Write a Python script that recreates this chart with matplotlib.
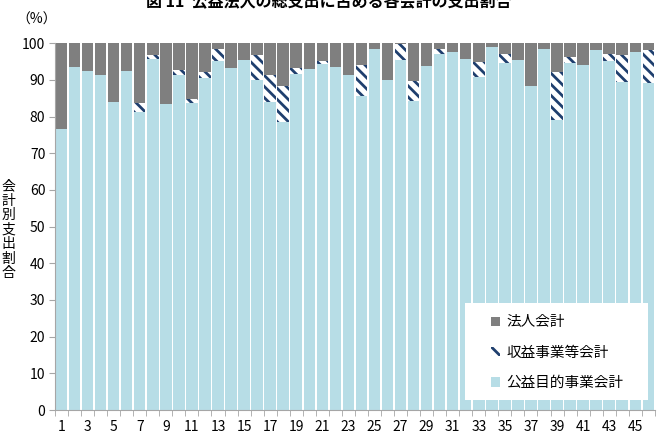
import numpy as np
import matplotlib
matplotlib.use("Agg")
import matplotlib.pyplot as plt
from matplotlib.patches import Patch, Rectangle

plt.rcParams['font.family'] = ['Noto Sans CJK JP', 'DejaVu Sans']
plt.rcParams['hatch.linewidth'] = 2.0

# Data
groups = np.arange(1, 47)
koueki = np.array([76.5, 93.4, 92.5, 91.3, 84.0, 92.4, 81.3, 95.8, 83.4, 91.3,
                   83.8, 90.4, 95.2, 93.3, 95.5, 89.9, 84.0, 78.6, 91.5, 92.9,
                   94.2, 93.5, 91.3, 85.6, 98.3, 90.0, 95.5, 84.2, 93.8, 97.0,
                   97.6, 95.8, 90.8, 99.0, 94.7, 95.4, 88.3, 98.5, 79.0, 94.7,
                   94.0, 98.0, 95.2, 89.5, 97.6, 89.0])
shueki = np.array([0, 0, 0, 0, 0, 0, 2.3, 0.9, 0, 1.3,
                   1.1, 1.7, 3.1, 0, 0, 6.8, 7.3, 9.7, 1.8, 0,
                   1.0, 0, 0, 8.4, 0, 0, 4.2, 5.5, 0, 1.3,
                   0, 0, 4.1, 0, 2.3, 0, 0, 0, 13.2, 1.6,
                   0, 0, 1.8, 7.2, 0, 9.0])
houjin = 100 - koueki - shueki
xtick_labels = [str(n) for n in range(1, 47, 2)]

c_blue = "#B7DDE6"
c_navy = "#1F3F6E"
c_gray = "#7F7F7F"

fig = plt.figure(figsize=(6.57, 4.4), dpi=100)
ax = fig.add_axes([0.0837, 0.068, 0.913, 0.834])

w = 0.88
ax.bar(groups, koueki, width=w, color=c_blue, linewidth=0)
ax.bar(groups, shueki, width=w, bottom=koueki, facecolor="white",
       edgecolor=c_navy, hatch="\\\\\\", linewidth=0)
ax.bar(groups, houjin, width=w, bottom=koueki + shueki, color=c_gray, linewidth=0)

ax.set_xlim(0.5, 46.5)
ax.set_ylim(0, 100)
ax.set_yticks(np.arange(0, 101, 10))
ax.set_xticks(np.arange(1, 47, 2))
ax.set_xticklabels(xtick_labels)
ax.set_xticks(np.arange(0.5, 47, 1), minor=True)
ax.tick_params(axis="x", which="major", length=0, pad=7, labelsize=10)
ax.tick_params(axis="x", which="minor", length=4, color="#A6A6A6")
ax.tick_params(axis="y", length=4, color="#A6A6A6", labelsize=10, pad=3)

for s in ["top", "right"]:
    ax.spines[s].set_visible(False)
for s in ["left", "bottom"]:
    ax.spines[s].set_color("#A6A6A6")

# legend: white box drawn behind, legend itself without frame
ax.add_patch(Rectangle((0.683, 0.027), 0.305, 0.265, transform=ax.transAxes,
                       facecolor="white", edgecolor="none", zorder=4))
handles = [
    Patch(facecolor=c_gray, edgecolor="none", label="法人会計"),
    Patch(facecolor="white", edgecolor=c_navy, hatch="\\\\\\", linewidth=0, label="収益事業等会計"),
    Patch(facecolor=c_blue, edgecolor="none", label="公益目的事業会計"),
]
leg = ax.legend(handles=handles, loc="upper left", bbox_to_anchor=(0.727, 0.258),
                frameon=False, fontsize=10.5, handlelength=0.6,
                handleheight=0.6, handletextpad=0.45, labelspacing=1.12,
                borderpad=0, borderaxespad=0)
leg.set_zorder(5)

# y-axis label (vertical characters)
fig.text(0.013, 0.478, "\n".join("会計別支出割合"), ha="center", va="center",
         fontsize=10, linespacing=1.05)
fig.text(0.056, 0.955, "（%）", ha="center", va="center", fontsize=10)

# title (top partly cut off as in the reference)
fig.text(0.5, 1 - 9 / 440, "図 11  公益法人の総支出に占める各会計の支出割合",
         ha="center", va="bottom", fontsize=11.5, fontweight="bold")

fig.savefig("out.png", dpi=100)
